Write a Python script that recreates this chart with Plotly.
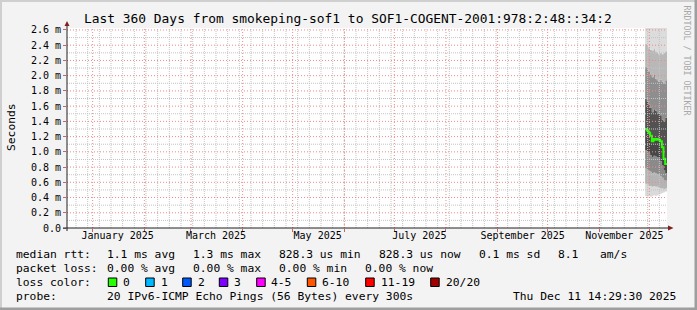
import plotly.graph_objects as go
import pandas as pd

# ---------------- data ----------------
range_start = "2024-12-16 14:29:30"
range_end = "2025-12-11 14:29:30"

month_starts = ["2025-01-01", "2025-02-01", "2025-03-01", "2025-04-01", "2025-05-01",
                "2025-06-01", "2025-07-01", "2025-08-01", "2025-09-01", "2025-10-01",
                "2025-11-01", "2025-12-01"]
label_dates = ["2025-01-16", "2025-03-16", "2025-05-16", "2025-07-16", "2025-09-16", "2025-11-16"]
label_text = ["January 2025", "March 2025", "May 2025", "July 2025", "September 2025", "November 2025"]

y_ticks = [0.0, 0.2, 0.4, 0.6, 0.8, 1.0, 1.2, 1.4, 1.6, 1.8, 2.0, 2.2, 2.4, 2.6]
y_tick_text = ["0.0", "0.2 m", "0.4 m", "0.6 m", "0.8 m", "1.0 m", "1.2 m", "1.4 m",
               "1.6 m", "1.8 m", "2.0 m", "2.2 m", "2.4 m", "2.6 m"]

times = ["2025-11-28 12:00", "2025-11-29 12:00", "2025-11-30 12:00", "2025-12-01 12:00",
         "2025-12-02 12:00", "2025-12-03 12:00", "2025-12-04 12:00", "2025-12-05 12:00",
         "2025-12-06 12:00", "2025-12-07 12:00", "2025-12-08 12:00", "2025-12-09 12:00",
         "2025-12-10 12:00", "2025-12-11 14:29:30"]

# RTT in milliseconds
median_ms = [1.30, 1.28, 1.25, 1.21, 1.14, 1.17, 1.16, 1.17, 1.16, 1.14, 1.06, 0.91, 0.84, 0.84]
ping_min = [0.42, 0.41, 0.42, 0.41, 0.42, 0.43, 0.42, 0.43, 0.44, 0.45, 0.46, 0.47, 0.48, 0.48]
ping_p10 = [0.58, 0.57, 0.56, 0.55, 0.54, 0.55, 0.54, 0.54, 0.53, 0.52, 0.52, 0.51, 0.52, 0.52]
ping_p25 = [0.78, 0.76, 0.75, 0.74, 0.72, 0.73, 0.72, 0.71, 0.70, 0.68, 0.66, 0.63, 0.62, 0.62]
ping_p40 = [1.02, 1.00, 0.98, 0.96, 0.93, 0.95, 0.94, 0.93, 0.92, 0.88, 0.82, 0.76, 0.72, 0.72]
ping_p60 = [1.70, 1.66, 1.62, 1.58, 1.52, 1.56, 1.54, 1.52, 1.50, 1.48, 1.42, 1.40, 1.45, 1.45]
ping_p75 = [2.12, 2.10, 2.05, 2.02, 1.98, 2.02, 1.96, 1.94, 1.92, 1.95, 1.92, 1.90, 1.94, 1.94]
ping_p90 = [2.42, 2.40, 2.36, 2.34, 2.33, 2.35, 2.32, 2.30, 2.28, 2.30, 2.28, 2.30, 2.32, 2.32]
ping_max = [2.70, 2.70, 2.70, 2.70, 2.70, 2.70, 2.70, 2.70, 2.70, 2.70, 2.70, 2.70, 2.70, 2.70]

title = "Last 360 Days from smokeping-sof1 to SOF1-COGENT-2001:978:2:48::34:2"
row_rtt = ["median rtt:", "1.1 ms avg", "1.3 ms max", "828.3 us min", "828.3 us now",
           "0.1 ms sd", "8.1", "am/s"]
row_loss = ["packet loss:", "0.00 % avg", "0.00 % max", "0.00 % min", "0.00 % now"]
loss_labels = ["0", "1", "2", "3", "4-5", "6-10", "11-19", "20/20"]
loss_colors = ["#26ff00", "#00b8ff", "#0059ff", "#7e00ff", "#ff00ff", "#ff5500", "#ff0000", "#a10000"]
row_probe = ["probe:", "20 IPv6-ICMP Echo Pings (56 Bytes) every 300s", "Thu Dec 11 14:29:30 2025"]

# ---------------- layout helpers ----------------
W, H = 697, 310
L, T, PW, PH = 67, 28, 600, 200
FONT = "DejaVu Sans Mono"

week_grid = [d.strftime("%Y-%m-%d") for d in pd.date_range("2024-12-22", "2025-12-11", freq="7D")]
y_minor = [round(0.1 + 0.2 * i, 2) for i in range(13)]


def fx(p):
    return (p - L) / PW


def fy(p):
    return (T + PH - p) / PH


fig = go.Figure()

levels = [ping_min, ping_p10, ping_p25, ping_p40, median_ms, ping_p60, ping_p75, ping_p90, ping_max]
band_colors = ["#DADADA", "#B4B4B4", "#8A8A8A", "#474747", "#525252", "#8E8E8E", "#B8B8B8", "#DCDCDC"]
for i, lv in enumerate(levels):
    fig.add_trace(go.Scatter(
        x=times, y=lv, mode="lines", line=dict(width=0, shape="hv"),
        fill=None if i == 0 else "tonexty",
        fillcolor=None if i == 0 else band_colors[i - 1],
        hoverinfo="skip", showlegend=False))

fig.add_trace(go.Scatter(x=times, y=median_ms, mode="lines",
                         line=dict(color=loss_colors[0], width=2, shape="hv"),
                         showlegend=False))

# dummy trace to carry the label axis
fig.add_trace(go.Scatter(x=[range_start, range_end], y=[None, None], xaxis="x2",
                         mode="lines", showlegend=False, hoverinfo="skip"))

grid_major = "#EE8A8A"
grid_minor = "#C4C4C4"

fig.update_layout(
    width=W, height=H, autosize=False,
    margin=dict(l=L, r=W - L - PW, t=T, b=H - T - PH, pad=0),
    paper_bgcolor="#F3F3F3", plot_bgcolor="#FFFFFF",
    font=dict(family=FONT, color="#000000"),
    showlegend=False,
    xaxis=dict(type="date", range=[range_start, range_end], tickvals=month_starts,
               showticklabels=False, ticks="outside", ticklen=3, tickcolor="#D06060",
               showgrid=False, showline=False, zeroline=False, fixedrange=True),
    xaxis2=dict(type="date", range=[range_start, range_end], overlaying="x", side="bottom",
                anchor="y", tickvals=label_dates, ticktext=label_text, ticks="",
                showgrid=False, showline=False, zeroline=False,
                tickfont=dict(family=FONT, size=10, color="#000000")),
    yaxis=dict(range=[0, 2.626], tickvals=y_ticks, ticktext=y_tick_text,
               ticks="outside", ticklen=3, tickcolor="#D06060",
               tickfont=dict(family=FONT, size=10, color="#000000"),
               showgrid=False, showline=False, zeroline=False, fixedrange=True),
)

shapes = []
# grid (drawn over the smoke like rrdtool)
for d in week_grid:
    shapes.append(dict(type="line", xref="x", yref="paper", x0=d, x1=d, y0=0, y1=1, layer="above",
                       line=dict(color=grid_minor, width=1, dash="1px,1px")))
for v in y_minor:
    shapes.append(dict(type="line", xref="paper", yref="y", x0=0, x1=1, y0=v, y1=v, layer="above",
                       line=dict(color=grid_minor, width=1, dash="1px,1px")))
for d in month_starts:
    shapes.append(dict(type="line", xref="x", yref="paper", x0=d, x1=d, y0=0, y1=1, layer="above",
                       line=dict(color=grid_major, width=1, dash="1px,2px")))
for v in y_ticks[1:]:
    shapes.append(dict(type="line", xref="paper", yref="y", x0=0, x1=1, y0=v, y1=v, layer="above",
                       line=dict(color=grid_major, width=1, dash="1px,2px")))

# frame shading
shapes.append(dict(type="rect", xref="paper", yref="paper", x0=fx(0), x1=fx(W), y0=fy(0), y1=fy(2),
                   fillcolor="#CFCFCF", line=dict(width=0)))
shapes.append(dict(type="rect", xref="paper", yref="paper", x0=fx(0), x1=fx(2), y0=fy(0), y1=fy(H),
                   fillcolor="#CFCFCF", line=dict(width=0)))
shapes.append(dict(type="rect", xref="paper", yref="paper", x0=fx(W - 2.5), x1=fx(W), y0=fy(0), y1=fy(H),
                   fillcolor="#9E9E9E", line=dict(width=0)))
shapes.append(dict(type="rect", xref="paper", yref="paper", x0=fx(0), x1=fx(W), y0=fy(H - 2.5), y1=fy(H),
                   fillcolor="#9E9E9E", line=dict(width=0)))
# axes
shapes.append(dict(type="line", xref="paper", yref="paper", x0=fx(67), x1=fx(67), y0=fy(231), y1=fy(25),
                   line=dict(color="#202020", width=1)))
shapes.append(dict(type="line", xref="paper", yref="paper", x0=fx(63), x1=fx(669), y0=fy(228), y1=fy(228),
                   line=dict(color="#202020", width=1)))
# arrows
shapes.append(dict(type="path", xref="paper", yref="paper",
                   path=f"M {fx(64.5)} {fy(26)} L {fx(69.5)} {fy(26)} L {fx(67)} {fy(21)} Z",
                   fillcolor="#802020", line=dict(width=0)))
shapes.append(dict(type="path", xref="paper", yref="paper",
                   path=f"M {fx(668)} {fy(225.5)} L {fx(668)} {fy(230.5)} L {fx(673.5)} {fy(228)} Z",
                   fillcolor="#802020", line=dict(width=0)))

annotations = []


def txt(s, x, y, size=11.3, anchor="left", color="#000000", angle=0):
    annotations.append(dict(text=s, x=fx(x), y=fy(y), xref="paper", yref="paper",
                            xanchor=anchor, yanchor="middle", showarrow=False,
                            borderpad=0, borderwidth=0, textangle=angle,
                            font=dict(family=FONT, size=size, color=color)))


txt(title, 347.7, 18.5, size=12.9, anchor="center")
txt("Seconds", 11, 127, size=11.3, anchor="center", angle=-90)
txt("RRDTOOL / TOBI OETIKER", 686.5, 60, size=8.3, anchor="center", color="#A8A8A8", angle=90)

rtt_x = [16, 107.3, 193.3, 279.3, 379.3, 479.3, 558.3, 600]
for s, x in zip(row_rtt, rtt_x):
    txt(s, x, 254.3)
loss_x = [16, 107.3, 193.3, 279.3, 365]
for s, x in zip(row_loss, loss_x):
    txt(s, x, 268.3)
txt("loss color:", 16, 282)
box_x = [108.3, 145.7, 182.7, 219.3, 256.7, 307.3, 365.7, 430.7]
lab_x = [123.3, 160.7, 197.7, 234.3, 271, 321.7, 380.7, 446]
for c, bx, s, lx in zip(loss_colors, box_x, loss_labels, lab_x):
    shapes.append(dict(type="rect", xref="paper", yref="paper", x0=fx(bx), x1=fx(bx + 8.5),
                       y0=fy(286.5), y1=fy(278), fillcolor=c, line=dict(color="#000000", width=1)))
    txt(s, lx, 282)
probe_x = [16, 107.3, 513.3]
for s, x in zip(row_probe, probe_x):
    txt(s, x, 296)

fig.update_layout(shapes=shapes, annotations=annotations)
fig.write_html("out.html")
